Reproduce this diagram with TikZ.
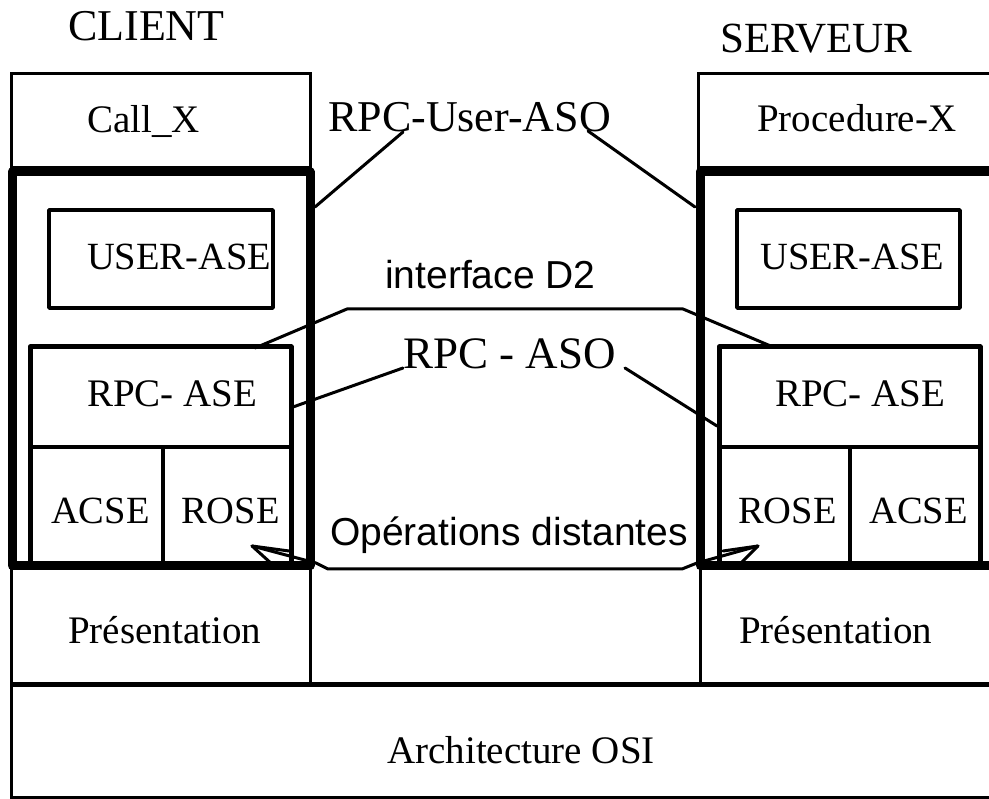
\documentclass[tikz,border=0pt]{standalone}
\usepackage{fontspec}
\setmainfont{Liberation Serif}
\newfontfamily\arialf{Liberation Sans}
\begin{document}
\begin{tikzpicture}[x=1pt,y=-1pt]
\tikzset{
  thinbox/.style={draw, line width=3pt},
  midbox/.style={draw, line width=4pt, line join=round},
  framebox/.style={draw, line width=9pt, line join=round},
  lbl/.style={anchor=base west, inner sep=0pt, font=\fontsize{39}{39}\selectfont},
  biglbl/.style={anchor=base west, inner sep=0pt, font=\fontsize{44}{44}\selectfont},
  sanslbl/.style={anchor=base west, inner sep=0pt, font=\arialf\fontsize{39}{39}\selectfont},
  leader/.style={draw, line width=3pt, line join=round, line cap=round},
}
\useasboundingbox (0,0) rectangle (989,799);
\clip (0,0) rectangle (989,799);
\fill[white] (0,0) rectangle (989,799);

% top application boxes
\draw[thinbox] (11,74) rectangle (310,168);
\draw[thinbox] (698,74) rectangle (1010,168);
% presentation and OSI
\draw[thinbox] (11,567) rectangle (310,683);
\draw[thinbox] (700,567) rectangle (1010,683);
\draw[thinbox] (11,684) rectangle (1010,797);
\draw[line width=5pt] (11,684) -- (1010,684);
% USER-ASE boxes
\draw[midbox, line width=3.5pt] (49,210) rectangle (273,308);
\draw[midbox, line width=3.5pt] (737,210) rectangle (960,308);
% RPC-ASE blocks
\draw[midbox, line width=5pt] (30,347) rectangle (291,567);
\draw[midbox] (30,447) -- (291,447);
\draw[midbox] (163,447) -- (163,567);
\draw[midbox, line width=5pt] (719,347) rectangle (980,567);
\draw[midbox] (719,447) -- (980,447);
\draw[midbox] (850,447) -- (850,567);
% thick frames
\draw[framebox] (12,172) rectangle (310,566);
\draw[framebox] (700,172) rectangle (1020,566);

% texts
\node[biglbl] (client) at (68,41) {CLIENT};
\node[biglbl, font=\fontsize{43}{43}\selectfont] (serveur) at (720,53) {SERVEUR};
\node[lbl] (callx) at (87,133) {Call\_X};
\node[lbl] (procx) at (757,132) {Procedure-X};
\node[biglbl] (userasolbl) at (328,132) {RPC-User-ASO};
\node[lbl, font=\fontsize{38.5}{38.5}\selectfont] (useraseL) at (87,270) {USER-ASE};
\node[lbl, font=\fontsize{38.5}{38.5}\selectfont] (useraseR) at (760,270) {USER-ASE};
\node[sanslbl] (ifd2) at (385,289) {interface D2};
\node[biglbl, font=\fontsize{45}{45}\selectfont] (rpcaso) at (403,369) {RPC - ASO};
\node[lbl] (rpcaseL) at (87,407) {RPC- ASE};
\node[lbl] (rpcaseR) at (775,407) {RPC- ASE};
\node[lbl, font=\fontsize{38.5}{38.5}\selectfont] (acseL) at (51,524) {ACSE};
\node[lbl, font=\fontsize{38.5}{38.5}\selectfont] (roseL) at (181,524) {ROSE};
\node[lbl, font=\fontsize{38.5}{38.5}\selectfont] (roseR) at (738,524) {ROSE};
\node[lbl, font=\fontsize{38.5}{38.5}\selectfont] (acseR) at (869,524) {ACSE};
\node[sanslbl] (opd) at (330,546) {Opérations distantes};
\node[lbl] (presL) at (68,643) {Présentation};
\node[lbl] (presR) at (739,643) {Présentation};
\node[lbl] (osi) at (387,763) {Architecture OSI};

% leader coordinates
\coordinate (uaL) at (403,132);
\coordinate (uaLe) at (315,207);
\coordinate (uaR) at (588,131);
\coordinate (uaRe) at (695,207);
\coordinate (d2L) at (255,348);
\coordinate (d2a) at (347,309);
\coordinate (d2b) at (683,309);
\coordinate (d2R) at (773,347);
\coordinate (raL) at (403,368);
\coordinate (raLe) at (293,407);
\coordinate (raR) at (625,368);
\coordinate (raRe) at (717,426);
\coordinate (tipL) at (252,546);
\coordinate (o1) at (316,563);
\coordinate (o2) at (328,569);
\coordinate (o3) at (682,569);
\coordinate (o4) at (697,563);
\coordinate (tipR) at (758,546);
\coordinate (bL1) at (289,551);
\coordinate (bL2) at (273,565);
\coordinate (bR1) at (723,551);
\coordinate (bR2) at (739,565);

% leaders
\draw[leader] (uaL) -- (uaLe);
\draw[leader] (uaR) -- (uaRe);
\draw[leader] (d2L) -- (d2a) -- (d2b) -- (d2R);
\draw[leader] (raL) -- (raLe);
\draw[leader] (raR) -- (raRe);
\draw[leader] (tipL) -- (o1) -- (o2) -- (o3) -- (o4) -- (tipR);
\draw[leader] (bL1) -- (tipL) -- (bL2);
\draw[leader] (bR1) -- (tipR) -- (bR2);
\end{tikzpicture}
\end{document}
